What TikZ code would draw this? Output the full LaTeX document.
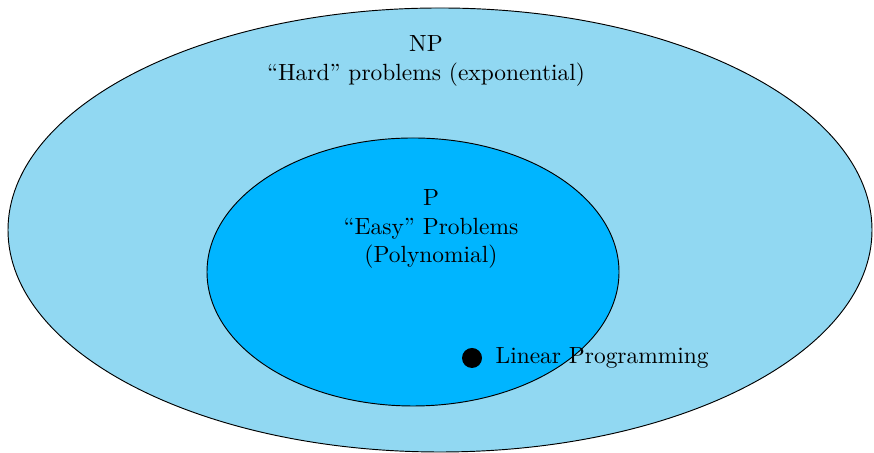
\documentclass[tikz,border=0pt]{standalone}
\usetikzlibrary{shapes.geometric, positioning}
\usepackage{xcolor}
\definecolor{nplight}{RGB}{145, 216, 242}
\definecolor{peasy}{RGB}{0, 181, 255}

\begin{document}
\begin{tikzpicture}[
  set/.style={ellipse, draw=black, inner sep=0pt, #1},
  lbl/.style={font=\normalsize, align=center, inner sep=2pt},
  pt/.style={circle, fill=black, inner sep=0pt, minimum size=0.3cm}
]
\useasboundingbox (0,0) rectangle (13.11,6.795);

% Classes
\node[set={fill=nplight, minimum width=12.96cm, minimum height=6.66cm}] (np) at (6.6,3.345) {};
\node[set={fill=peasy, minimum width=6.18cm, minimum height=4.02cm}] (p) at (6.195,2.715) {};

% Labels
\node[lbl] (nplbl) at (6.39,5.88) {NP\\``Hard'' problems (exponential)};
\node[lbl] (plbl)  at (6.465,3.36) {P\\``Easy'' Problems\\(Polynomial)};

% Linear programming
\node[pt] (lp) at (7.08,1.425) {};
\node[lbl, right=0.12cm of lp] (lplbl) {Linear Programming};

\end{tikzpicture}
\end{document}
